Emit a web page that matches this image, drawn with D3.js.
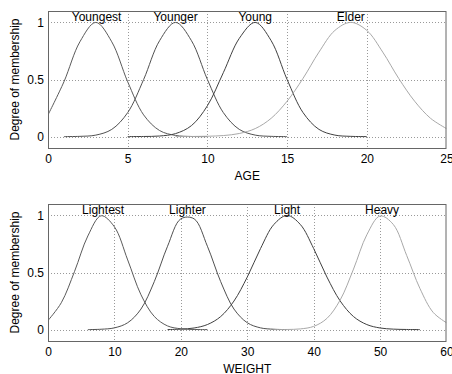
<!DOCTYPE html>
<html lang="en">
<head>
    <meta charset="UTF-8">
    <title>Membership functions</title>
    <script src="https://cdn.jsdelivr.net/npm/d3@7"></script>
    <style>
        body { margin: 0; background: #fff; }
        svg text { font-family: "Liberation Sans", Arial, sans-serif; font-size: 12px; fill: #000; }
        .grid { stroke: #999; stroke-width: 1; stroke-dasharray: 1,2; }
        .frame { fill: none; stroke: #666; stroke-width: 1; }
        .mf { fill: none; stroke-width: 1; }
    </style>
</head>
<body>
<script>
    // AGE panel
    const ageX = [0,1,2,3,4,5,6,7,8,9,10,11,12,13,14,15,16,17,18,19,20,21,22,23,24,25];
    const ageTicks = [0, 5, 10, 15, 20, 25];
    const ageNames = ['Youngest', 'Younger', 'Young', 'Elder'];
    const agePeaks = [3.05, 8, 13, 19];
    const youngest = [0.19,0.48,0.83,1.00,0.83,0.48,0.19,0.053,0.010,0.001,0,0,0,0,0,0,0,0,0,0,0,0,0,0,0,0];
    const younger  = [0,0,0.002,0.013,0.063,0.21,0.50,0.84,1.00,0.84,0.50,0.21,0.063,0.013,0.002,0,0,0,0,0,0,0,0,0,0,0];
    const young    = [0,0,0,0,0,0,0.001,0.005,0.026,0.096,0.27,0.56,0.86,1.00,0.84,0.50,0.21,0.063,0.013,0.002,0,0,0,0,0,0];
    const elder    = [0,0,0,0,0,0,0,0,0,0.001,0.003,0.009,0.027,0.07,0.16,0.31,0.51,0.74,0.93,1.00,0.93,0.74,0.51,0.31,0.16,0.07];

    // WEIGHT panel
    const weightX = [0,2,4,6,8,10,12,14,16,18,20,22,24,26,28,30,32,34,36,38,40,42,44,46,48,50,52,54,56,58,60];
    const weightTicks = [0, 10, 20, 30, 40, 50, 60];
    const weightNames = ['Lightest', 'Lighter', 'Light', 'Heavy'];
    const weightPeaks = [8.3, 21, 36, 50.3];
    const lightest = [0.08,0.235,0.51,0.82,0.997,0.90,0.61,0.305,0.115,0.032,0.007,0.001,0,0,0,0,0,0,0,0,0,0,0,0,0,0,0,0,0,0,0];
    const lighter  = [0,0,0,0,0.003,0.015,0.06,0.18,0.42,0.73,0.97,0.97,0.73,0.42,0.18,0.06,0.015,0.003,0,0,0,0,0,0,0,0,0,0,0,0,0];
    const light    = [0,0,0,0,0,0,0,0,0,0,0.004,0.014,0.044,0.114,0.25,0.46,0.71,0.92,1.00,0.92,0.71,0.46,0.25,0.114,0.044,0.014,0.004,0.001,0,0,0];
    const heavy    = [0,0,0,0,0,0,0,0,0,0,0,0,0,0,0,0,0,0,0.001,0.006,0.028,0.098,0.26,0.53,0.83,0.995,0.92,0.65,0.36,0.15,0.06];

    const yTicks = [0, 0.5, 1];
    const lineColors = ['#5a5a5a', '#505050', '#404040', '#a8a8a8'];

    const panels = [
        { x: ageX, series: [youngest, younger, young, elder], names: ageNames, peaks: agePeaks, ticks: ageTicks, title: 'AGE' },
        { x: weightX, series: [lightest, lighter, light, heavy], names: weightNames, peaks: weightPeaks, ticks: weightTicks, title: 'WEIGHT' }
    ];

    const w = 452, h = 374;
    const boxLeft = 48, boxRight = 446.5;
    const boxTop = 11, boxBottom = 148, step = 193;

    const svg = d3.select('body').append('svg')
        .attr('width', w)
        .attr('height', h);

    panels.forEach((p, i) => {
        const oy = i * step;
        const g = svg.append('g').attr('transform', `translate(0, ${oy})`);

        const xScale = d3.scaleLinear([p.ticks[0], p.ticks[p.ticks.length - 1]], [boxLeft, boxRight]);
        const yScale = d3.scaleLinear([-0.1, 1.1], [boxBottom, boxTop]);

        const clipId = 'clip' + i;
        g.append('clipPath').attr('id', clipId)
            .append('rect')
            .attr('x', boxLeft).attr('y', boxTop)
            .attr('width', boxRight - boxLeft).attr('height', boxBottom - boxTop);

        // grid
        g.selectAll('.vgrid')
            .data(p.ticks.slice(1, -1))
            .enter().append('line')
            .attr('class', 'grid')
            .attr('x1', d => Math.round(xScale(d)) + 0.5)
            .attr('x2', d => Math.round(xScale(d)) + 0.5)
            .attr('y1', boxTop)
            .attr('y2', boxBottom);

        g.selectAll('.hgrid')
            .data(yTicks)
            .enter().append('line')
            .attr('class', 'grid')
            .attr('x1', boxLeft)
            .attr('x2', boxRight)
            .attr('y1', d => Math.round(yScale(d)) + 0.5)
            .attr('y2', d => Math.round(yScale(d)) + 0.5);

        // curves, tails trimmed where they lie flat on zero
        p.series.forEach((vals, k) => {
            const pts = p.x.map((xv, j) => ({ x: xv, y: vals[j], j }));
            const near = j => vals[j] > 0 || vals[j - 1] > 0 || vals[j + 1] > 0;
            const line = d3.line()
                .defined(d => near(d.j))
                .x(d => xScale(d.x))
                .y(d => yScale(d.y))
                .curve(d3.curveCatmullRom.alpha(0.5));
            g.append('path')
                .datum(pts)
                .attr('class', 'mf')
                .attr('clip-path', `url(#${clipId})`)
                .attr('stroke', lineColors[k])
                .attr('d', line);
        });

        // frame
        g.append('rect')
            .attr('class', 'frame')
            .attr('x', boxLeft + 0.5)
            .attr('y', boxTop + 0.5)
            .attr('width', boxRight - boxLeft - 1)
            .attr('height', boxBottom - boxTop);

        // axes
        const xAxis = d3.axisBottom(xScale).tickValues(p.ticks).tickSize(0).tickPadding(6).tickFormat(d3.format('d'));
        const xg = g.append('g').attr('transform', `translate(0, ${boxBottom})`).call(xAxis);
        xg.select('.domain').remove();
        xg.selectAll('text').attr('font-size', null).attr('font-family', null);

        const yAxis = d3.axisLeft(yScale).tickValues(yTicks).tickSize(0).tickPadding(4).tickFormat(d3.format(''));
        const yg = g.append('g').attr('transform', `translate(${boxLeft}, 0)`).call(yAxis);
        yg.select('.domain').remove();
        yg.selectAll('text').attr('font-size', null).attr('font-family', null);

        // curve names
        g.selectAll('.mfname')
            .data(p.names)
            .enter().append('text')
            .attr('x', (d, k) => xScale(p.peaks[k]))
            .attr('y', boxTop + 10)
            .attr('text-anchor', 'middle')
            .text(d => d);

        // axis titles
        g.append('text')
            .attr('x', (boxLeft + boxRight) / 2)
            .attr('y', boxBottom + 31.5)
            .attr('text-anchor', 'middle')
            .text(p.title);

        g.append('text')
            .attr('transform', `translate(19, ${(boxTop + boxBottom) / 2}) rotate(-90)`)
            .attr('text-anchor', 'middle')
            .text('Degree of membership');
    });
</script>
</body>
</html>
